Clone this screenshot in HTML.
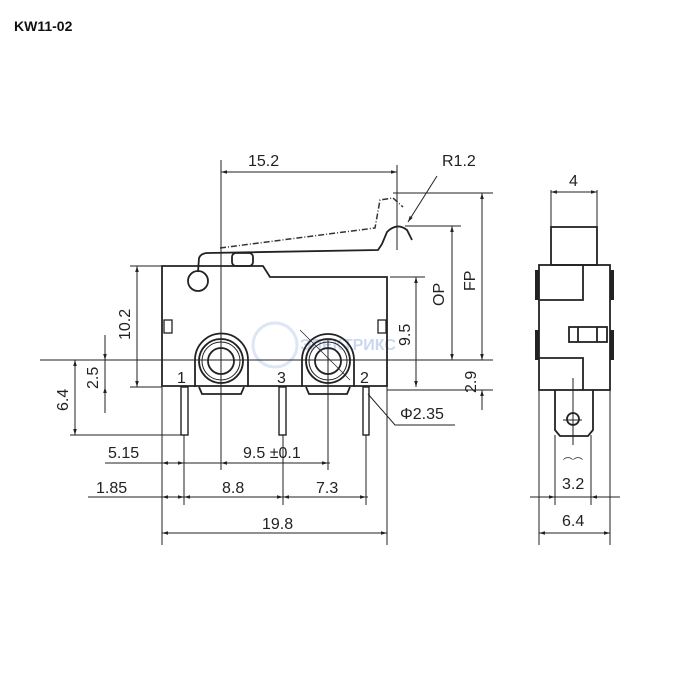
<!DOCTYPE html>
<html><head><meta charset="utf-8"><style>
html,body{margin:0;padding:0;background:#fff}
svg{display:block}
text{font-family:"Liberation Sans",sans-serif;fill:#222}
</style></head><body>
<svg width="700" height="700" viewBox="0 0 700 700" xmlns="http://www.w3.org/2000/svg">
<defs>
<marker id="a" viewBox="0 0 10 10" refX="10" refY="5" markerWidth="8" markerHeight="6" orient="auto-start-reverse"><path d="M0,2 L10,5 L0,8 z" fill="#222"/></marker>
</defs>
<text x="14" y="31" font-size="14" font-weight="bold" style="fill:#111">KW11-02</text>

<g opacity="0.35" fill="none" stroke="#9bb6e6" stroke-width="3">
<circle cx="275" cy="345" r="22"/>
</g>
<text x="300" y="350" font-size="16" font-weight="bold" style="fill:#c9d7f0">ЭЛЕКТРИКС</text>

<g stroke="#222" fill="none" stroke-width="1">
<line x1="221" y1="160" x2="221" y2="470"/>
<line x1="328" y1="340" x2="328" y2="470"/>
<line x1="397" y1="165" x2="397" y2="250"/>
<line x1="40" y1="360" x2="493" y2="360"/>
<line x1="130" y1="387" x2="162" y2="387"/>
<line x1="387" y1="390" x2="493" y2="390"/>
<line x1="130" y1="266" x2="162" y2="266"/>
<line x1="393" y1="193" x2="493" y2="193"/>
<line x1="405" y1="226" x2="461" y2="226"/>
<line x1="390" y1="277" x2="425" y2="277"/>
<line x1="70" y1="435" x2="182" y2="435"/>
<line x1="162" y1="387" x2="162" y2="545"/>
<line x1="387" y1="277" x2="387" y2="545"/>
<line x1="184" y1="435" x2="184" y2="505"/>
<line x1="283" y1="435" x2="283" y2="505"/>
<line x1="366" y1="435" x2="366" y2="505"/>
<line x1="221" y1="172" x2="397" y2="172" marker-start="url(#a)" marker-end="url(#a)"/>
<line x1="137" y1="266" x2="137" y2="387" marker-start="url(#a)" marker-end="url(#a)"/>
<line x1="105" y1="335" x2="105" y2="360" marker-end="url(#a)"/>
<line x1="105" y1="413" x2="105" y2="387" marker-end="url(#a)"/>
<line x1="105" y1="360" x2="105" y2="387"/>
<line x1="75" y1="360" x2="75" y2="435" marker-start="url(#a)" marker-end="url(#a)"/>
<line x1="416" y1="277" x2="416" y2="387" marker-start="url(#a)" marker-end="url(#a)"/>
<line x1="452" y1="226" x2="452" y2="360" marker-start="url(#a)" marker-end="url(#a)"/>
<line x1="482" y1="193" x2="482" y2="360" marker-start="url(#a)" marker-end="url(#a)"/>
<line x1="482" y1="390" x2="482" y2="410" marker-start="url(#a)"/>
<line x1="105" y1="463" x2="330" y2="463"/>
<path d="M162,463 L184,463" marker-start="url(#a)" marker-end="url(#a)"/>
<path d="M221,463 L328,463" marker-start="url(#a)" marker-end="url(#a)"/>
<line x1="88" y1="497" x2="368" y2="497"/>
<path d="M162,497 L184,497" marker-start="url(#a)" marker-end="url(#a)"/>
<path d="M184,497 L283,497" marker-start="url(#a)" marker-end="url(#a)"/>
<path d="M283,497 L366,497" marker-start="url(#a)" marker-end="url(#a)"/>
<line x1="162" y1="533" x2="387" y2="533" marker-start="url(#a)" marker-end="url(#a)"/>
<path d="M437,176 L408,222" marker-end="url(#a)"/>
<path d="M368,394 L395,425 L455,425"/>
<line x1="300" y1="330" x2="350" y2="380" stroke-width="0.7"/>
</g>

<g stroke="#222" fill="none" stroke-width="1.8">
<path d="M162,386 L162,266 L263,266 L270,277 L387,277 L387,386 Z"/>
<circle cx="198" cy="281" r="10"/>
<rect x="232" y="253" width="21" height="13" rx="4"/>
<path d="M198,272 L199,258 Q201,253 208,253 L378,250 L382,244 L387,232 Q397,222 407,230 L412,240"/>
<rect x="164" y="320" width="8" height="13" stroke-width="1.3"/>
<rect x="378" y="320" width="8" height="13" stroke-width="1.3"/>
<path d="M195,387 L195,360 A26,26 0 0 1 248,360 L248,387"/>
<path d="M199,387 L202,394 L241,394 L244,387"/>
<circle cx="221" cy="361" r="22"/><circle cx="221" cy="361" r="19" stroke-width="1"/><circle cx="221" cy="361" r="13"/>
<path d="M302,387 L302,360 A26,26 0 0 1 354,360 L354,387"/>
<path d="M306,387 L309,394 L347,394 L350,387"/>
<circle cx="328" cy="361" r="22"/><circle cx="328" cy="361" r="19" stroke-width="1"/><circle cx="328" cy="361" r="13"/>
<rect x="181" y="387" width="7" height="48" stroke-width="1.4"/>
<rect x="279" y="387" width="7" height="48" stroke-width="1.4"/>
<rect x="363" y="387" width="6" height="48" stroke-width="1.4"/>
</g>
<path d="M220,248 L375,228 L380,200 L393,198 L403,207" stroke="#333" stroke-width="1.5" fill="none" stroke-dasharray="6,2,1,2"/>

<g stroke="#222" fill="none" stroke-width="1">
<line x1="551" y1="190" x2="551" y2="262"/>
<line x1="597" y1="190" x2="597" y2="262"/>
<line x1="551" y1="192" x2="597" y2="192" marker-start="url(#a)" marker-end="url(#a)"/>
<line x1="555" y1="435" x2="555" y2="505"/>
<line x1="591" y1="435" x2="591" y2="505"/>
<line x1="530" y1="497" x2="620" y2="497"/>
<path d="M540,497 L555,497" marker-end="url(#a)"/>
<path d="M606,497 L591,497" marker-end="url(#a)"/>
<line x1="539" y1="390" x2="539" y2="545"/>
<line x1="610" y1="390" x2="610" y2="545"/>
<line x1="539" y1="533" x2="610" y2="533" marker-start="url(#a)" marker-end="url(#a)"/>
<line x1="573" y1="378" x2="573" y2="445"/>
<line x1="563" y1="420" x2="582" y2="420"/>
</g>
<g stroke="#222" fill="none" stroke-width="1.8">
<rect x="551" y="227" width="46" height="38"/>
<rect x="539" y="265" width="71" height="125"/>
<path d="M539,300 L583,300 L583,265"/>
<path d="M539,358 L583,358 L583,390"/>
<rect x="569" y="327" width="38" height="15"/>
<line x1="578" y1="327" x2="578" y2="342"/><line x1="597" y1="327" x2="597" y2="342"/>
<path d="M555,390 L555,430 L560,436 L588,436 L593,430 L593,390"/>
<circle cx="573" cy="419" r="6"/>
</g>
<g fill="#222">
<rect x="535" y="270" width="4" height="30"/><rect x="535" y="330" width="4" height="30"/>
<rect x="610" y="270" width="4" height="30"/><rect x="610" y="330" width="4" height="30"/>
</g>

<g font-size="16">
<text x="248" y="166">15.2</text>
<text x="442" y="166">R1.2</text>
<text x="400" y="419">Φ2.35</text>
<text x="108" y="458">5.15</text>
<text x="243" y="458">9.5 ±0.1</text>
<text x="96" y="493">1.85</text>
<text x="222" y="493">8.8</text>
<text x="316" y="493">7.3</text>
<text x="262" y="529">19.8</text>
<text x="569" y="186">4</text>
<text x="562" y="489">3.2</text>
<text x="562" y="526">6.4</text>
<text x="177" y="383" font-size="16">1</text>
<text x="277" y="383" font-size="16">3</text>
<text x="360" y="383" font-size="16">2</text>
<text transform="translate(130,340) rotate(-90)">10.2</text>
<text transform="translate(98,389) rotate(-90)">2.5</text>
<text transform="translate(68,411) rotate(-90)">6.4</text>
<text transform="translate(410,346) rotate(-90)">9.5</text>
<text transform="translate(444,306) rotate(-90)">OP</text>
<text transform="translate(475,291) rotate(-90)">FP</text>
<text transform="translate(476,393) rotate(-90)">2.9</text>
<text x="563" y="466" font-size="10">⌒⌒</text>
</g>
</svg>
</body></html>
